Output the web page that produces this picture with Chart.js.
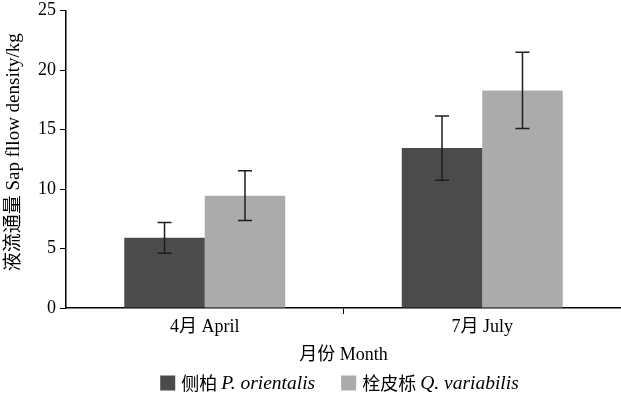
<!DOCTYPE html>
<html>
<head>
<meta charset="utf-8">
<script src="https://cdn.jsdelivr.net/npm/chart.js@4"></script>
<style>
  html, body { margin: 0; padding: 0; background: #fff; }
  #wrap { width: 621px; height: 396px; position: relative; }
</style>
</head>
<body>
<div id="wrap"><canvas id="c"></canvas></div>
<script>
// data
const categories = ['4月 April', '7月 July'];
const orientalisVals = [5.9, 13.45];
const orientalisErr = [1.3, 2.7];
const variabilisVals = [9.45, 18.3];
const variabilisErr = [2.1, 3.2];
const legendCn = ['侧柏 ', '栓皮栎 '];
const legendLatin = ['P. orientalis', 'Q. variabilis'];

const serif = "'Liberation Serif', 'Noto Sans CJK SC', serif";
const darkGrey = '#4b4b4b';
const lightGrey = '#ababab';

// error bars, drawn from the y scale
let errorBars = {
  id: 'errorBars',
  afterDatasetsDraw(chart) {
    const ctx = chart.ctx;
    const y = chart.scales.y;
    chart.data.datasets.forEach(function (ds, di) {
      const meta = chart.getDatasetMeta(di);
      meta.data.forEach(function (bar, i) {
        const v = ds.data[i], e = ds.errors[i];
        const top = y.getPixelForValue(v + e);
        const bot = y.getPixelForValue(v - e);
        ctx.save();
        ctx.strokeStyle = '#1e1e1e';
        ctx.lineWidth = 1.5;
        ctx.beginPath();
        ctx.moveTo(bar.x, top); ctx.lineTo(bar.x, bot);
        ctx.moveTo(bar.x - 7, top); ctx.lineTo(bar.x + 7, top);
        ctx.moveTo(bar.x - 7, bot); ctx.lineTo(bar.x + 7, bot);
        ctx.stroke();
        ctx.restore();
      });
    });
  }
};

// legend with italic latin names
let mixedLegend = {
  id: 'mixedLegend',
  afterDraw(chart) {
    const ctx = chart.ctx;
    const colors = [darkGrey, lightGrey];
    const cnFont = "18px 'Noto Sans CJK SC', 'Liberation Serif'";
    const latFont = "italic 19.5px 'Liberation Serif'";
    const box = 15, gap = 6, itemGap = 26;
    ctx.save();
    let widths = [];
    for (let i = 0; i < 2; i++) {
      ctx.font = cnFont;
      let w = ctx.measureText(legendCn[i]).width;
      ctx.font = latFont;
      w += ctx.measureText(legendLatin[i]).width;
      widths.push(box + gap + w);
    }
    const total = widths[0] + widths[1] + itemGap;
    const cx = (chart.chartArea.left + chart.chartArea.right) / 2 - 4;
    let x = cx - total / 2;
    const yMid = 383;
    ctx.textBaseline = 'middle';
    for (let i = 0; i < 2; i++) {
      ctx.fillStyle = colors[i];
      ctx.fillRect(x, yMid - box / 2, box, box);
      let tx = x + box + gap;
      ctx.fillStyle = '#000';
      ctx.font = cnFont;
      ctx.fillText(legendCn[i], tx, yMid);
      tx += ctx.measureText(legendCn[i]).width;
      ctx.font = latFont;
      ctx.fillText(legendLatin[i], tx, yMid + 1);
      x += widths[i] + itemGap;
    }
    ctx.restore();
  }
};

let chartData = {
  labels: categories,
  datasets: [
    {
      label: '侧柏 P. orientalis',
      data: orientalisVals,
      errors: orientalisErr,
      backgroundColor: darkGrey,
      categoryPercentage: 0.58,
      barPercentage: 1.0,
    },
    {
      label: '栓皮栎 Q. variabilis',
      data: variabilisVals,
      errors: variabilisErr,
      backgroundColor: lightGrey,
      categoryPercentage: 0.58,
      barPercentage: 1.0,
    },
  ],
};

let chartOptions = {
  responsive: true,
  maintainAspectRatio: false,
  animation: false,
  layout: { padding: { top: 0, right: 0, bottom: 30, left: 0 } },
  scales: {
    x: {
      grid: {
        display: true,
        drawOnChartArea: false,
        drawTicks: true,
        tickLength: 6,
        offset: true,
        color: function (c) { return c.index === 1 ? '#000' : 'rgba(0,0,0,0)'; },
      },
      border: { color: '#000', width: 1.5 },
      ticks: { color: '#000', font: { family: serif, size: 18 }, padding: 2 },
      title: {
        display: true,
        text: '月份 Month',
        color: '#000',
        font: { family: serif, size: 18 },
        padding: { top: 4, bottom: 0 },
      },
      afterFit: function (s) { s.height = 58; },
    },
    y: {
      min: 0,
      max: 25,
      grid: {
        display: true,
        drawOnChartArea: false,
        drawTicks: true,
        tickLength: 6,
        color: '#000',
      },
      border: { color: '#000', width: 1.5 },
      ticks: { stepSize: 5, color: '#000', font: { family: serif, size: 18, lineHeight: 0.75 }, padding: 4 },
      title: {
        display: true,
        text: '\u00a0\u00a0\u00a0液流通量 Sap fllow density/kg',
        color: '#000',
        font: { family: serif, size: 19 },
        padding: { top: 3, bottom: 4 },
      },
      afterFit: function (s) { s.width = 66; },
    },
  },
  plugins: {
    legend: { display: false },
    tooltip: { enabled: false },
  },
};

const ctx = document.getElementById('c').getContext('2d');
var mchart = new Chart(ctx, {
  type: 'bar',
  data: chartData,
  options: chartOptions,
  plugins: [errorBars, mixedLegend],
});
</script>
</body>
</html>
